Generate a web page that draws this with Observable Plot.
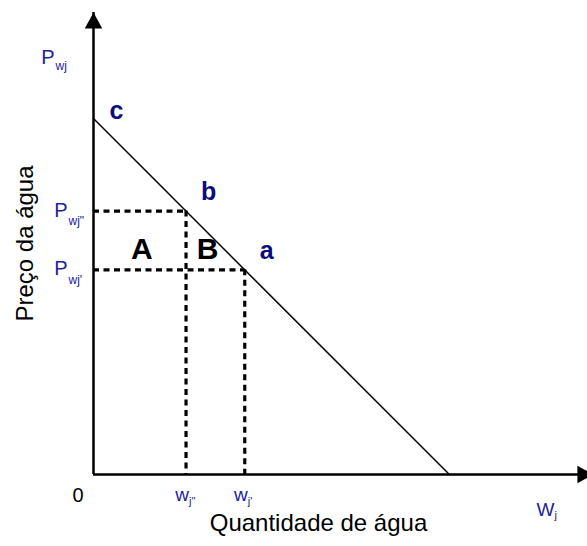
<!DOCTYPE html>
<html><head><meta charset="utf-8">
<script src="https://cdn.jsdelivr.net/npm/d3@7"></script>
<script src="https://cdn.jsdelivr.net/npm/@observablehq/plot@0.6"></script>
<style>
body{margin:0;background:#fff}
svg{font-family:"Liberation Sans",Arial,sans-serif}
</style>
</head><body><div id="chart"></div>
<script>
// Demand line (schematic units)
const demandQ = [0, 10];
const demandP = [10, 0];
// Dashed reference levels: wj'' / Pwj'' and wj' / Pwj'
const quantityValues = [2.6, 4.25];
const priceValues = [7.4, 5.75];
const priceSub = ['wj"', "wj'"];
const quantitySub = ['j"', "j'"];
const pointNames = ["b", "a"];
const interceptName = ["c"];
const areaNames = ["A", "B"];
const xTitle = "Quantidade de água";
const yTitle = "Preço da água";
const yAxisName = ["P", "wj"];
const xAxisName = ["W", "j"];
const originLabel = ["0"];
const xMax = 13.88, yMax = 12.98;

const demand = demandQ.map((q, i) => ({q, p: demandP[i]}));
const levels = quantityValues.map((q, i) => ({q, p: priceValues[i], ps: priceSub[i], qs: quantitySub[i], name: pointNames[i]}));
const midP = (priceValues[0] + priceValues[1]) / 2;
const areas = [
  {n: areaNames[0], q: quantityValues[0] / 2, p: midP},
  {n: areaNames[1], q: quantityValues[0] + (quantityValues[1] - quantityValues[0]) / 3, p: midP}
];

const arrowUp = {draw(ctx, size) { const s = Math.sqrt(size / Math.PI); ctx.moveTo(0, 0); ctx.lineTo(-1.25 * s, 2.3 * s); ctx.lineTo(1.25 * s, 2.3 * s); ctx.closePath(); }};
const arrowRight = {draw(ctx, size) { const s = Math.sqrt(size / Math.PI); ctx.moveTo(0, 0); ctx.lineTo(-2.3 * s, -1.25 * s); ctx.lineTo(-2.3 * s, 1.25 * s); ctx.closePath(); }};

const blue = "#23239b", navy = "#0b0b80";

const chart = Plot.plot({
  width: 587, height: 546,
  marginLeft: 93, marginRight: 0, marginTop: 12, marginBottom: 72,
  x: {domain: [0, xMax], axis: null},
  y: {domain: [0, yMax], axis: null},
  style: {fontFamily: "Liberation Sans, Arial, sans-serif", background: "white"},
  marks: [
    // dashed guides
    Plot.ruleY(levels, {y: "p", x1: 0, x2: "q", stroke: "black", strokeWidth: 3.2, strokeDasharray: "6,4.5"}),
    Plot.ruleX(levels, {x: "q", y1: "p", y2: 0, stroke: "black", strokeWidth: 3.2, strokeDasharray: "6,4.5"}),
    // demand line
    Plot.line(demand, {x: "q", y: "p", stroke: "black", strokeWidth: 1.5}),
    // axes
    Plot.ruleY([0], {x1: 0, x2: xMax, stroke: "black", strokeWidth: 2.5}),
    Plot.ruleX([0], {y1: 0, y2: yMax, stroke: "black", strokeWidth: 2.5}),
    Plot.dot([0], {x: 0, y: yMax, r: 7, symbol: arrowUp, fill: "black", stroke: null}),
    Plot.dot([0], {x: xMax, y: 0, r: 7, symbol: arrowRight, fill: "black", stroke: null, dx: 6}),
    // y-axis name P_wj
    Plot.text([yAxisName[0]], {x: 0, y: yMax, text: d => d, textAnchor: "end", dx: -39, dy: 45, fontSize: 20, fill: blue}),
    Plot.text([yAxisName[1]], {x: 0, y: yMax, text: d => d, textAnchor: "start", dx: -38, dy: 54, fontSize: 12, fill: blue}),
    // price level labels
    Plot.text(levels, {x: 0, y: "p", text: () => "P", textAnchor: "end", dx: -26, dy: -1, fontSize: 20, fill: blue}),
    Plot.text(levels, {x: 0, y: "p", text: "ps", textAnchor: "start", dx: -25, dy: 10.5, fontSize: 12, fill: blue}),
    // quantity labels
    Plot.text(levels, {x: "q", y: 0, text: () => "w", textAnchor: "end", dx: 3, dy: 20, fontSize: 19, fill: blue}),
    Plot.text(levels, {x: "q", y: 0, text: "qs", textAnchor: "start", dx: 3, dy: 27, fontSize: 11, fill: blue}),
    // x-axis name W_j
    Plot.text([xAxisName[0]], {x: xMax, y: 0, text: d => d, textAnchor: "start", dx: -51, dy: 35, fontSize: 19, fill: blue}),
    Plot.text([xAxisName[1]], {x: xMax, y: 0, text: d => d, textAnchor: "start", dx: -33, dy: 41, fontSize: 11, fill: blue}),
    // origin
    Plot.text(originLabel, {x: 0, y: 0, text: d => d, textAnchor: "end", dx: -10, dy: 21, fontSize: 20, fill: "black"}),
    // point labels
    Plot.text(interceptName, {x: demandQ[0], y: demandP[0], text: d => d, textAnchor: "start", dx: 16, dy: -8, fontSize: 25, fontWeight: "bold", fill: navy}),
    Plot.text(levels, {x: "q", y: "p", text: "name", textAnchor: "start", dx: 15, dy: -19, fontSize: 25, fontWeight: "bold", fill: navy}),
    // area labels
    Plot.text(areas, {x: "q", y: "p", text: "n", textAnchor: "middle", dx: 2, dy: 9, fontSize: 30, fontWeight: "bold", fill: "black"}),
    // axis titles
    Plot.text([xTitle], {frameAnchor: "bottom", text: d => d, textAnchor: "middle", dx: -22, dy: 56, fontSize: 24, fill: "black"}),
    Plot.text([yTitle], {frameAnchor: "left", text: d => d, textAnchor: "middle", rotate: -90, dx: -68, fontSize: 24, fill: "black"})
  ]
});
document.getElementById("chart").appendChild(chart);
</script>
</body></html>
